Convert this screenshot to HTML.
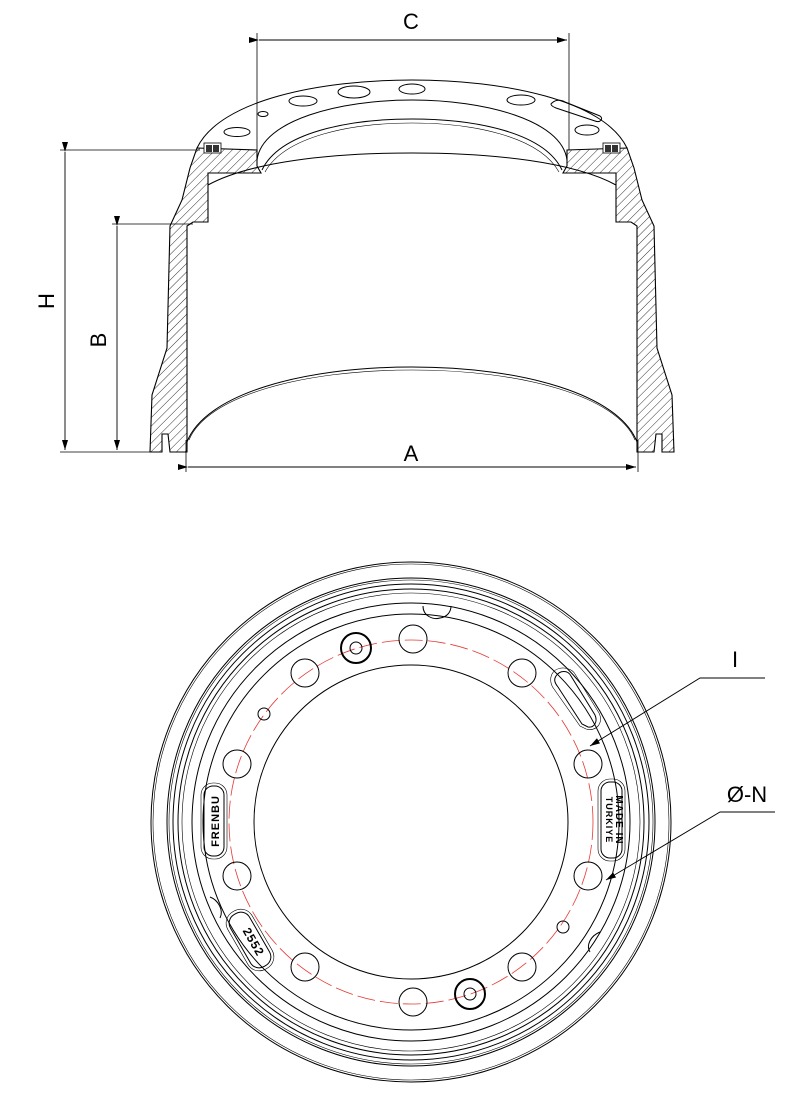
<!DOCTYPE html>
<html><head><meta charset="utf-8"><style>
html,body{margin:0;padding:0;background:#fff}
svg{display:block}
text{font-family:"Liberation Sans",sans-serif}
</style></head><body>
<svg width="800" height="1104" viewBox="0 0 800 1104" xmlns="http://www.w3.org/2000/svg">
<defs>
<pattern id="h" patternUnits="userSpaceOnUse" width="6" height="6" patternTransform="rotate(45)">
<line x1="0" y1="0" x2="0" y2="6" stroke="#000" stroke-width="0.8"/>
</pattern>
<pattern id="h2" patternUnits="userSpaceOnUse" width="6" height="6" patternTransform="rotate(-45)">
<line x1="0" y1="0" x2="0" y2="6" stroke="#000" stroke-width="0.8"/>
</pattern>
<marker id="ar" markerWidth="10" markerHeight="6" refX="10" refY="3" orient="auto" markerUnits="userSpaceOnUse">
<path d="M0,0 L10,3 L0,6 z" fill="#000"/>
</marker>
<path id="prof" d="M197,148 L257,150 L257,166 L261,173 L208,173 L208,222 L193,222 L187,226 L187,452 L170,452 L168,434 L162,434 L162,452 L150,452 L152,395 L167,348 L170,226 L182,200 L190,168 Z"/>
<g id="lug">
<rect x="204" y="143" width="17" height="10" fill="#fff" stroke="#000" stroke-width="0.8"/>
<rect x="206" y="145" width="6" height="7" fill="#333"/>
<rect x="213" y="145" width="6" height="7" fill="#333"/>
</g>
</defs>

<!-- TOP VIEW -->
<g fill="none" stroke="#000" stroke-width="1">
<line x1="257" y1="33" x2="257" y2="150" stroke-width="0.8"/>
<line x1="569" y1="33" x2="569" y2="150" stroke-width="0.8"/>
<line x1="259" y1="40" x2="567" y2="40" marker-start="url(#ar)" marker-end="url(#ar)" stroke-width="0.9"/>
<line x1="60" y1="150" x2="200" y2="150" stroke-width="0.8"/>
<line x1="60" y1="452" x2="152" y2="452" stroke-width="0.8"/>
<line x1="65" y1="152" x2="65" y2="450" marker-start="url(#ar)" marker-end="url(#ar)" stroke-width="0.9"/>
<line x1="112" y1="224" x2="193" y2="224" stroke-width="0.8"/>
<line x1="117" y1="226" x2="117" y2="450" marker-start="url(#ar)" marker-end="url(#ar)" stroke-width="0.9"/>
<line x1="186" y1="440" x2="186" y2="472" stroke-width="0.8"/>
<line x1="638" y1="440" x2="638" y2="472" stroke-width="0.8"/>
<line x1="188" y1="467" x2="636" y2="467" marker-start="url(#ar)" marker-end="url(#ar)" stroke-width="0.9"/>

<path d="M197,148 C220,100 320,80 412,80 C504,80 604,100 627,148"/>
<path d="M257,160 C262,120 340,100 412,100 C484,100 562,120 567,160"/>
<path d="M262,170 C280,132 350,119 412,119 C474,119 544,132 562,170"/>
<path d="M265,172 C285,136 352,123 412,123 C472,123 539,136 559,172" stroke-width="0.6"/>
<path d="M208,185 C250,162 330,153 412,153 C494,153 574,162 616,185"/>
<path d="M187,442 C205,395 300,367 412,367 C524,367 619,395 637,442"/>
<path d="M189,440 C207,396 302,370 412,370 C522,370 617,396 635,440" stroke-width="0.6"/>
<ellipse cx="237" cy="132" rx="13" ry="4.5"/>
<ellipse cx="263" cy="114" rx="5" ry="2.5"/>
<ellipse cx="303" cy="101" rx="14" ry="5"/>
<ellipse cx="354" cy="92" rx="16" ry="6"/>
<ellipse cx="412" cy="89" rx="13" ry="5"/>
<ellipse cx="521" cy="100" rx="14" ry="5"/>
<ellipse cx="587" cy="130" rx="12" ry="5"/>
<path d="M552,103 C556,99 562,100 565,102 L600,116 C604,119 600,123 595,121 L556,108 C551,106 550,104 552,103 Z"/>
</g>
<use href="#prof" fill="url(#h)" stroke="#000" stroke-width="1.1"/>
<use href="#prof" fill="url(#h2)" stroke="#000" stroke-width="1.1" transform="translate(824,0) scale(-1,1)"/>
<use href="#lug"/>
<use href="#lug" transform="translate(824,0) scale(-1,1)"/>

<text x="411" y="29" font-size="22" text-anchor="middle">C</text>
<text x="411" y="461" font-size="22" text-anchor="middle">A</text>
<text transform="translate(54,301) rotate(-90)" font-size="22" text-anchor="middle">H</text>
<text transform="translate(106,340) rotate(-90)" font-size="22" text-anchor="middle">B</text>

<!-- BOTTOM VIEW -->
<g fill="none" stroke="#000" stroke-width="1">
<circle cx="411" cy="822" r="260"/>
<circle cx="411" cy="822" r="258" stroke-width="0.6"/>
<circle cx="411" cy="822" r="244"/>
<circle cx="411" cy="822" r="242" stroke-width="0.6"/>
<circle cx="411" cy="822" r="238"/>
<circle cx="411" cy="822" r="233"/>
<circle cx="411" cy="822" r="229" stroke-width="0.6"/>
<circle cx="411" cy="822" r="219"/>
<circle cx="411" cy="822" r="208"/>
<circle cx="411" cy="822" r="157"/>
<circle cx="411" cy="822" r="182" stroke="#e53935" stroke-width="0.8" stroke-dasharray="18,5"/>
<g>
<circle cx="413" cy="639" r="14"/>
<circle cx="305" cy="673" r="14"/>
<circle cx="522" cy="673" r="14"/>
<circle cx="237" cy="764" r="14"/>
<circle cx="588" cy="764" r="14"/>
<circle cx="237" cy="876" r="14"/>
<circle cx="588" cy="876" r="14"/>
<circle cx="305" cy="967" r="14"/>
<circle cx="522" cy="967" r="14"/>
<circle cx="413" cy="1002" r="14"/>
<circle cx="356" cy="648" r="15" stroke-width="2"/>
<circle cx="356" cy="648" r="6"/>
<circle cx="470" cy="994" r="15" stroke-width="2"/>
<circle cx="470" cy="994" r="6"/>
<circle cx="264" cy="714" r="6"/>
<circle cx="563" cy="927" r="6"/>
</g>
<path d="M556,676 C560,670 568,670 571,676 L595,715 C598,722 594,728 588,727 L582,724 L558,687 C554,682 554,679 556,676 Z"/>
<path d="M552,674 C557,665 571,667 575,674 L599,713 C604,723 596,732 586,729 L580,726 L554,689 C550,684 550,678 552,674 Z" stroke-width="0.6"/>
<path d="M423,606 C423,616 433,620 440,618 C447,617 451,612 451,606"/>
<path d="M210,897 C218,900 224,910 220,918"/>
<path d="M600,932 C590,936 586,946 590,952"/>
<rect x="204" y="786" width="20" height="70" rx="9"/>
<rect x="201" y="783" width="26" height="76" rx="12" stroke-width="0.6"/>
<rect x="601" y="782" width="21" height="76" rx="9"/>
<rect x="598" y="779" width="27" height="82" rx="12" stroke-width="0.6"/>
<g transform="translate(250,940) rotate(60)">
<rect x="-30" y="-11" width="60" height="22" rx="10"/>
<rect x="-33" y="-14" width="66" height="28" rx="13" stroke-width="0.6"/>
</g>
<polyline points="765,678 700,678 590,746" marker-end="url(#ar)" stroke-width="0.9"/>
<polyline points="775,812 720,812 606,880" marker-end="url(#ar)" stroke-width="0.9"/>
</g>
<text transform="translate(219,821) rotate(-90)" font-size="11" font-weight="bold" text-anchor="middle" letter-spacing="1">FRENBU</text>
<text transform="translate(616,820) rotate(90)" font-size="10" font-weight="bold" text-anchor="middle" letter-spacing="1">MADE IN</text>
<text transform="translate(606,820) rotate(90)" font-size="9" font-weight="bold" text-anchor="middle" letter-spacing="1">TURKIYE</text>
<text transform="translate(250,944) rotate(60)" font-size="12" font-weight="bold" text-anchor="middle" letter-spacing="1">2552</text>
<text x="735" y="667" font-size="22" text-anchor="middle">I</text>
<text x="747" y="802" font-size="22" text-anchor="middle">Ø-N</text>
</svg>
</body></html>
